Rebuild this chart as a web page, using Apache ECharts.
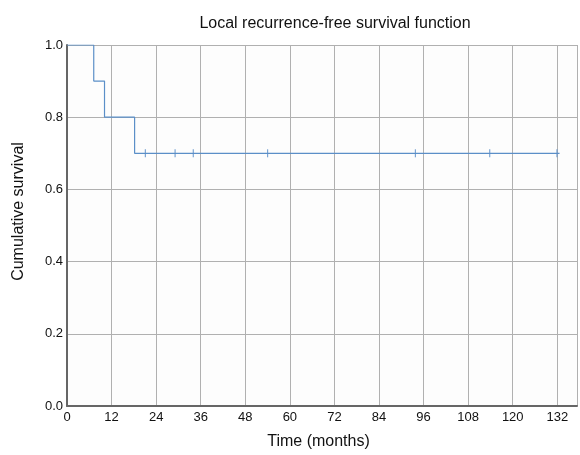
<!DOCTYPE html>
<html>
<head>
<meta charset="utf-8">
<script src="https://cdn.jsdelivr.net/npm/echarts@6/dist/echarts.min.js"></script>
<style>
  html, body { margin: 0; padding: 0; background: #fff; }
  #chart { width: 580px; height: 455px; }
</style>
</head>
<body>
<div id="chart"></div>
<script>
// survival steps: time (months) and survival after the event
const stepTimes = [0, 7.2, 10.1, 18.2, 132.6]
const stepSurvival = [1.0, 0.9, 0.8, 0.7, 0.7]

// censored observations
const censorTimes = [21.1, 29.1, 34, 54, 93.8, 113.8, 131.9]
const censorSurvival = [0.7, 0.7, 0.7, 0.7, 0.7, 0.7, 0.7]

const xTicks = [0, 12, 24, 36, 48, 60, 72, 84, 96, 108, 120, 132]
const yTicks = [0.0, 0.2, 0.4, 0.6, 0.8, 1.0]

const fontFam = 'Liberation Sans, Arial, sans-serif'
const lineColor = '#5b8fc8'

const chart = echarts.init(document.getElementById('chart'))

chart.setOption({
    backgroundColor: '#fff',
    animation: false,
    title: {
        text: 'Local recurrence-free survival function',
        left: 330,
        textAlign: 'center',
        top: 11,
        textStyle: { fontFamily: fontFam, fontSize: 16, fontWeight: 'normal', color: '#111' }
    },
    grid: { left: 67, right: 0, top: 45, bottom: 44, backgroundColor: '#fdfdfd', show: true, borderWidth: 0 },
    xAxis: {
        type: 'value',
        min: 0,
        max: 137.3,
        interval: 12,
        name: 'Time (months)',
        nameLocation: 'middle',
        nameGap: 28,
        nameTextStyle: { fontFamily: fontFam, fontSize: 16, color: '#111', padding: [0, 7, 0, 0] },
        axisLine: { lineStyle: { color: '#666', width: 2 } },
        axisTick: { show: false },
        axisLabel: {
            fontFamily: fontFam, fontSize: 13, color: '#111', margin: 5,
            formatter: v => xTicks.includes(v) ? String(v) : ''
        },
        splitLine: { lineStyle: { color: '#b0b0b0', width: 1 } }
    },
    yAxis: {
        type: 'value',
        min: 0,
        max: 1,
        interval: 0.2,
        name: 'Cumulative survival',
        nameLocation: 'middle',
        nameGap: 40,
        nameTextStyle: { fontFamily: fontFam, fontSize: 16, color: '#111', padding: [0, 0, 0, 28] },
        axisLine: { show: true, lineStyle: { color: '#666', width: 2 } },
        axisTick: { show: false },
        axisLabel: {
            fontFamily: fontFam, fontSize: 13, color: '#111', margin: 4,
            formatter: v => yTicks.some(t => Math.abs(t - v) < 1e-9) ? v.toFixed(1) : ''
        },
        splitLine: { lineStyle: { color: '#b0b0b0', width: 1 } }
    },
    series: [
        {
            type: 'line',
            step: 'end',
            data: stepTimes.map((t, i) => [t, stepSurvival[i]]),
            symbol: 'none',
            lineStyle: { color: lineColor, width: 1.2 },
            z: 3
        },
        {
            type: 'scatter',
            data: censorTimes.map((t, i) => [t, censorSurvival[i]]),
            symbol: 'rect',
            symbolSize: [1.2, 8],
            itemStyle: { color: lineColor },
            z: 4
        }
    ]
})
</script>
</body>
</html>
